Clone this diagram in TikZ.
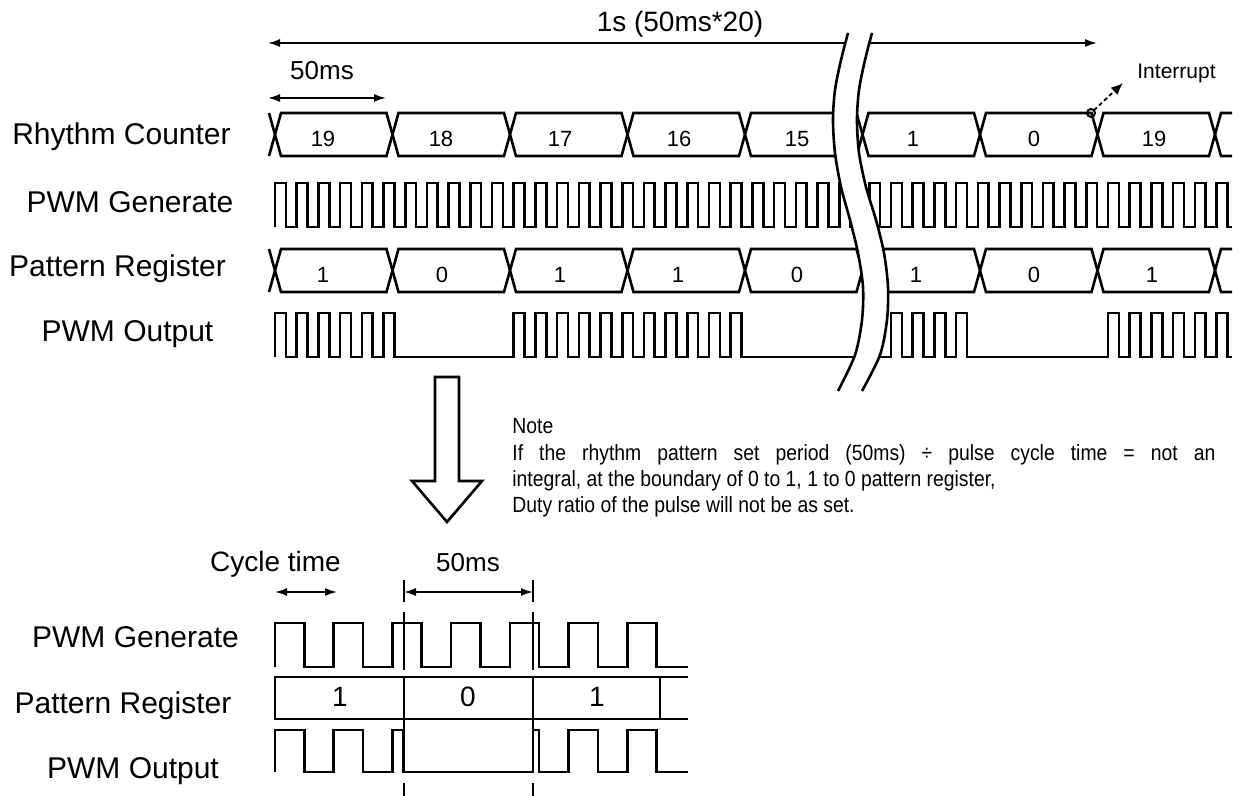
\documentclass[tikz,border=0pt]{standalone}
\usepackage{fontspec}
\setmainfont{Liberation Sans}
\newfontfamily\notefont[FakeStretch=0.88]{Liberation Sans}
\usepackage{tikz}
\usetikzlibrary{arrows.meta}

\tikzset{
  sig/.style={line width=1.3pt,line join=miter},
  dim/.style={line width=0.9pt},
  lbl/.style={anchor=base,inner sep=0pt,font=\fontsize{15}{18}\selectfont},
  num/.style={anchor=base,inner sep=0pt,font=\fontsize{11}{13}\selectfont},
  txt/.style={anchor=base,inner sep=0pt,font=\fontsize{14}{17}\selectfont},
  note/.style={anchor=base west,inner sep=0pt,font=\notefont\fontsize{11}{13}\selectfont}
}

\begin{document}
\begin{tikzpicture}[x=0.5pt,y=-0.5pt,>={Latex[length=6pt,width=4pt]}]
  \useasboundingbox (0,0) rectangle (1249,796);

  % row labels
  \node[lbl] (rcL) at (121.5,145) {Rhythm Counter};
  \node[lbl] (pgL) at (130,213) {PWM Generate};
  \node[lbl] (prL) at (117.5,277) {Pattern Register};
  \node[lbl] (poL) at (127.5,342) {PWM Output};

  % time scale
  \coordinate (secA) at (268,43); \coordinate (secB) at (1097,43);
  \draw[dim,<->] (secA) -- (secB);
  \node[txt] (secT) at (680,32) {1s (50ms*20)};
  \coordinate (perA) at (268,98); \coordinate (perB) at (386,98);
  \draw[dim,<->] (perA) -- (perB);
  \node[txt,font=\fontsize{13}{16}\selectfont] (perT) at (322,80) {50ms};

  % buses (rhythm counter, pattern register)
  \foreach \y in {113,249} {
    \draw[sig] (269,\y) -- (275,\y+21.5) -- (269,\y+43);
    \foreach \i in {0,...,7} {
      \draw[sig] ({275+117.5*\i},\y+21.5) -- ({281+117.5*\i},\y) -- ({386.5+117.5*\i},\y)
        -- ({392.5+117.5*\i},\y+21.5) -- ({386.5+117.5*\i},\y+43) -- ({281+117.5*\i},\y+43) -- cycle;
    }
    \draw[sig] (1232,\y) -- (1221,\y) -- (1215,\y+21.5) -- (1221,\y+43) -- (1232,\y+43);
  }
  \foreach \x/\t [count=\n] in {323/19,441/18,560/17,679/16,797/15,913/1,1034/0,1154/19}
    \node[num] (rcN\n) at (\x,147) {\t};
  \foreach \x/\t [count=\n] in {323/1,442/0,560/1,678/1,797/0,916/1,1034/0,1152/1}
    \node[num] (prN\n) at (\x,283) {\t};

  % PWM generate
  \draw[sig] (275,227) \foreach \k in {0,...,26} { -- ++(0,-44) -- ++(10.85,0) -- ++(0,44) -- ++(10.85,0) };
  \draw[sig] (855,227) -- (869.3,227) \foreach \k in {0,...,15} { -- ++(0,-44) -- ++(10.85,0) -- ++(0,44) -- ++(10.85,0) }
    -- ++(0,-44) -- ++(10.85,0) -- ++(0,44) -- (1232,227);

  % PWM output
  \draw[sig] (275,357) \foreach \k in {0,...,5} { -- ++(0,-44) -- ++(10.85,0) -- ++(0,44) -- ++(10.85,0) }
    -- (513.7,357) \foreach \k in {11,...,21} { -- ++(0,-44) -- ++(10.85,0) -- ++(0,44) -- ++(10.85,0) }
    -- (860,357);
  \draw[sig] (855,357) -- (869.3,357) \foreach \k in {0,...,4} { -- ++(0,-44) -- ++(10.85,0) -- ++(0,44) -- ++(10.85,0) }
    -- (1108,357) \foreach \k in {0,...,4} { -- ++(0,-44) -- ++(10.85,0) -- ++(0,44) -- ++(10.85,0) }
    -- ++(0,-44) -- ++(10.85,0) -- ++(0,44) -- (1232,357);

  % interrupt
  \coordinate (irq) at (1091,113); \coordinate (irqE) at (1123,83);
  \draw[line width=1pt] (irq) circle[radius=2pt];
  \draw[dim,dash pattern=on 2pt off 1.5pt,-{Latex[length=6pt,width=5pt]},shorten <=2pt] (irq) -- (irqE);
  \node[anchor=base west,inner sep=0pt,font=\fontsize{10.5}{12}\selectfont] (irqT) at (1137,79) {Interrupt};

  % break
  \fill[white] plot[smooth] coordinates {(848,33) (841,60) (835,90) (833,120) (835,153) (841,187) (850,220) (858,253) (863,287) (862,320) (855,355) (838,391)}
    -- plot[smooth] coordinates {(862,391) (880,355) (887,320) (888,287) (884,253) (876,220) (866,187) (859,153) (857,120) (859,90) (865,60) (872,33)} -- cycle;
  \draw[sig] plot[smooth] coordinates {(848,33) (841,60) (835,90) (833,120) (835,153) (841,187) (850,220) (858,253) (863,287) (862,320) (855,355) (838,391)};
  \draw[sig] plot[smooth] coordinates {(872,33) (865,60) (859,90) (857,120) (859,153) (866,187) (876,220) (884,253) (888,287) (887,320) (880,355) (862,391)};

  % down arrow
  \draw[sig,fill=white] (435,377) -- (459,377) -- (459,481) -- (482,481) -- (447,522) -- (412,481) -- (435,481) -- cycle;

  % note
  \node[note] (note1) at (512,434) {Note};
  \node[note] (note2) at (512,461) {\makebox[351.5pt][s]{If the rhythm pattern set period (50ms) ÷ pulse cycle time = not an}};
  \node[note] (note3) at (512,487) {integral, at the boundary of 0 to 1, 1 to 0 pattern register,};
  \node[note] (note4) at (512,513) {Duty ratio of the pulse will not be as set.};

  % detail
  \node[txt] (cycT) at (275.5,572) {Cycle time};
  \node[txt,font=\fontsize{13}{16}\selectfont] (per2T) at (468,572) {50ms};
  \coordinate (cycA) at (275,592); \coordinate (cycB) at (337,592);
  \draw[dim,<->] (cycA) -- (cycB);
  \coordinate (per2A) at (404,592); \coordinate (per2B) at (533,592);
  \draw[dim,<->] (per2A) -- (per2B);
  \foreach \x in {404,533} {
    \draw[sig] (\x,580) -- (\x,602);
    \draw[sig] (\x,612) -- (\x,670);
    \draw[sig] (\x,677) -- (\x,772);
    \draw[sig] (\x,783) -- (\x,796);
  }

  \node[lbl] (pg2L) at (135.5,648) {PWM Generate};
  \node[lbl] (pr2L) at (123,714) {Pattern Register};
  \node[lbl] (po2L) at (133,778) {PWM Output};

  \draw[sig] (275,667) \foreach \k in {0,...,6} { -- ++(0,-44) -- ++(29.35,0) -- ++(0,44) -- ++(29.35,0) } -- (688,667);
  \draw[sig] (688,677) -- (275,677) -- (275,719) -- (688,719);
  \draw[sig] (660,677) -- (660,719);
  \foreach \x/\t [count=\n] in {340/1,468/0,597/1}
    \node[txt] (pr2N\n) at (\x,707) {\t};
  \draw[sig] (275,772) -- (275,730) -- (304.35,730) -- (304.35,772) -- (333.7,772) -- (333.7,730) -- (363,730)
    -- (363,772) -- (392.4,772) -- (392.4,730) -- (403,730) -- (403,772) -- (533,772) -- (533,730)
    -- (539.1,730) -- (539.1,772) -- (568.5,772) -- (568.5,730) -- (597.8,730) -- (597.8,772)
    -- (627.2,772) -- (627.2,730) -- (656.5,730) -- (656.5,772) -- (688,772);
\end{tikzpicture}
\end{document}
